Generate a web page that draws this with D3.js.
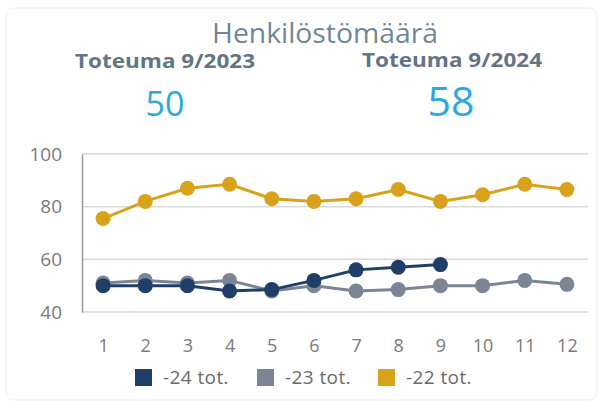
<!DOCTYPE html>
<html>
<head>
<meta charset="utf-8">
<script src="https://cdn.jsdelivr.net/npm/d3@7"></script>
<style>
  body { margin: 0; background: #fff; }
  svg { display: block; font-family: "Open Sans", sans-serif; }
</style>
</head>
<body>
<div id="chart"></div>
<script>
const months = [1, 2, 3, 4, 5, 6, 7, 8, 9, 10, 11, 12];
const yTicks = [40, 60, 80, 100];
const tot24 = [50, 50, 50, 48, 48.5, 52, 56, 57, 58];
const tot23 = [51, 52, 51, 52, 48, 50, 48, 48.5, 50, 50, 52, 50.5];
const tot22 = [75.5, 82, 87, 88.5, 83, 82, 83, 86.5, 82, 84.5, 88.5, 86.5];
const seriesNames = ["-24 tot.", "-23 tot.", "-22 tot."];
const seriesColors = ["#1f3f69", "#7b8594", "#d9a21b"];

const width = 602;
const height = 405;
const plotLeft = 82, plotRight = 588, plotTop = 154, plotBottom = 312;

const svg = d3.select("#chart")
    .append("svg")
    .attr("width", width)
    .attr("height", height);

// card
svg.append("rect")
    .attr("x", 6).attr("y", 8)
    .attr("width", 591).attr("height", 392)
    .attr("rx", 8)
    .attr("fill", "#fff")
    .attr("stroke", "#eceef0");

// headers
svg.append("text")
    .attr("x", 325).attr("y", 43)
    .attr("text-anchor", "middle")
    .attr("font-size", "27px")
    .attr("fill", "#6f8798")
    .attr("textLength", 226)
    .attr("lengthAdjust", "spacingAndGlyphs")
    .text("Henkilöstömäärä");

let heads = [["Toteuma 9/2023", 165, 68], ["Toteuma 9/2024", 452, 67]];
heads.forEach(h => {
    svg.append("text")
        .attr("x", h[1]).attr("y", h[2])
        .attr("text-anchor", "middle")
        .attr("font-size", "19px")
        .attr("font-weight", "bold")
        .attr("fill", "#627585")
        .attr("textLength", 180)
        .attr("lengthAdjust", "spacingAndGlyphs")
        .text(h[0]);
});

svg.append("text")
    .attr("x", 165).attr("y", 116)
    .attr("text-anchor", "middle")
    .attr("font-size", "34px")
    .attr("fill", "#2aa9e0")
    .text(tot23[8]);

svg.append("text")
    .attr("x", 451).attr("y", 116)
    .attr("text-anchor", "middle")
    .attr("font-size", "41px")
    .attr("fill", "#2aa9e0")
    .text(tot24[8]);

//scales
let xScale = d3.scalePoint()
    .domain(months)
    .range([plotLeft, plotRight])
    .padding(0.5);

let yScale = d3.scaleLinear()
    .domain([40, 100])
    .range([plotBottom, plotTop]);

// grid
svg.append("g")
    .selectAll("line")
    .data(yTicks)
    .enter()
    .append("line")
    .attr("x1", plotLeft).attr("x2", plotRight)
    .attr("y1", d => yScale(d)).attr("y2", d => yScale(d))
    .attr("stroke", "#d9d9d9")
    .attr("stroke-width", 1.5);

let yAxis = d3.axisLeft(yScale).tickValues(yTicks).tickSize(0).tickPadding(20);
let yG = svg.append("g")
    .attr("transform", "translate(" + plotLeft + ",0)")
    .call(yAxis);
yG.select(".domain").attr("stroke", "#9a9a9a").attr("stroke-width", 1.5);
yG.selectAll("text").attr("font-size", "19px").attr("fill", "#7a7a7a").attr("font-family", "Open Sans");

let xAxis = d3.axisBottom(xScale).tickSize(0).tickPadding(27);
let xG = svg.append("g")
    .attr("transform", "translate(0," + plotBottom + ")")
    .call(xAxis);
xG.select(".domain").remove();
xG.selectAll("text").attr("font-size", "18px").attr("fill", "#7a7a7a").attr("font-family", "Open Sans");

// series, drawn back to front
let allSeries = [tot22, tot23, tot24];
let colors = [seriesColors[2], seriesColors[1], seriesColors[0]];
let line = d3.line()
    .x((d, i) => xScale(months[i]))
    .y(d => yScale(d));

allSeries.forEach((s, k) => {
    svg.append("path")
        .datum(s)
        .attr("d", line)
        .attr("fill", "none")
        .attr("stroke", colors[k])
        .attr("stroke-width", 3);

    svg.append("g")
        .selectAll("circle")
        .data(s)
        .enter()
        .append("circle")
        .attr("cx", (d, i) => xScale(months[i]))
        .attr("cy", d => yScale(d))
        .attr("r", 7.5)
        .attr("fill", colors[k]);
});

// legend
let legendX = [135, 257, 378];
let legend = svg.append("g")
    .selectAll("g")
    .data(seriesNames)
    .enter()
    .append("g")
    .attr("transform", (d, i) => "translate(" + legendX[i] + ",369)");

legend.append("rect")
    .attr("width", 17).attr("height", 17)
    .attr("fill", (d, i) => seriesColors[i]);

legend.append("text")
    .attr("x", 28).attr("y", 15)
    .attr("font-size", "19px")
    .attr("letter-spacing", "0.4px")
    .attr("fill", "#6a6a6a")
    .text(d => d);
</script>
</body>
</html>
